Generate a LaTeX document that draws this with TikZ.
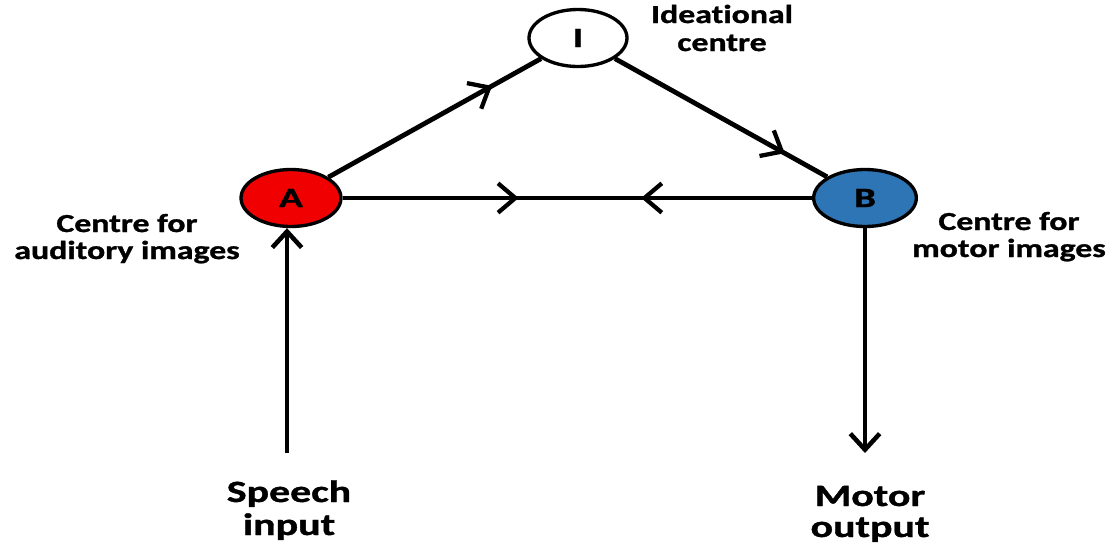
\documentclass[tikz,border=0pt]{standalone}
\usepackage{fontspec}
\setmainfont{Carlito}[Ligatures=NoCommon, BoldFeatures={FakeBold=1}]
\usetikzlibrary{arrows.meta,decorations.markings,shapes.geometric}
\definecolor{aRed}{RGB}{240,0,0}
\definecolor{bBlue}{RGB}{46,117,182}
\newcommand\sxa[1]{\scalebox{1.3}[1]{#1}}
\newcommand\sxb[1]{\scalebox{1.35}[1]{#1}}
\newcommand\sxc[1]{\scalebox{1.4}[1]{#1}}
\tikzset{
  lab/.style={font=\fontsize{19.5}{19.5}\selectfont\bfseries, inner sep=0pt, anchor=base},
  biglab/.style={font=\fontsize{23.25}{23.25}\selectfont\bfseries, inner sep=0pt, anchor=base},
  centre/.style={ellipse, draw=black, line width=2.5pt, inner sep=0pt,
     minimum height=42.75pt, font=\fontsize{21}{21}\selectfont\bfseries},
  conn/.style={line width=3.6pt},
  endtip/.style={-{Straight Barb[length=12pt,width=22pt,line width=3.4pt]}},
  midarrow/.style={postaction={decorate}, decoration={markings,
     mark=at position #1 with {\arrow{Straight Barb[length=13pt,width=22pt,line width=3.2pt]}}}},
}
\begin{document}
\begin{tikzpicture}[x=0.75pt,y=-0.75pt]
\useasboundingbox (0,0) rectangle (1115,547);
% centres
\node[centre, fill=white, minimum width=73.5pt] (I) at (578,38) {\sxc{I}};
\node[centre, fill=aRed, minimum width=75pt] (A) at (291,198) {\sxc{A}};
\node[centre, fill=bBlue, minimum width=77pt] (B) at (865,198) {\sxc{B}};
% free ends
\coordinate (sIn) at (287,453);
\coordinate (mOut) at (865,453);
% connectors
\draw[conn, midarrow=0.77] (A) -- (I);
\draw[conn, midarrow=0.80] (I) -- (B);
\draw[line width=3pt, midarrow=0.375] (A) -- (B);
\draw[line width=3pt, midarrow=0.364] (B) -- (A);
\draw[conn, endtip] (sIn) -- (sIn |- A.south);
\draw[conn, endtip] (B) -- (mOut);
% labels
\node[lab] (ideaA) at (722,23) {\sxa{Ideational}};
\node[lab] (ideaB) at (722,51) {\sxa{centre}};
\node[lab] (audA) at (127,232) {\sxa{Centre for}};
\node[lab] (audB) at (127,259) {\sxa{auditory images}};
\node[lab] (motA) at (1009,230) {\sxa{Centre for}};
\node[lab] (motB) at (1009,257) {\sxa{motor images}};
\node[biglab] (spA) at (289,502) {\sxb{Speech}};
\node[biglab] (spB) at (289,535) {\sxb{input}};
\node[biglab] (moA) at (870,506) {\sxb{Motor}};
\node[biglab] (moB) at (870,537) {\sxb{output}};
\end{tikzpicture}
\end{document}
